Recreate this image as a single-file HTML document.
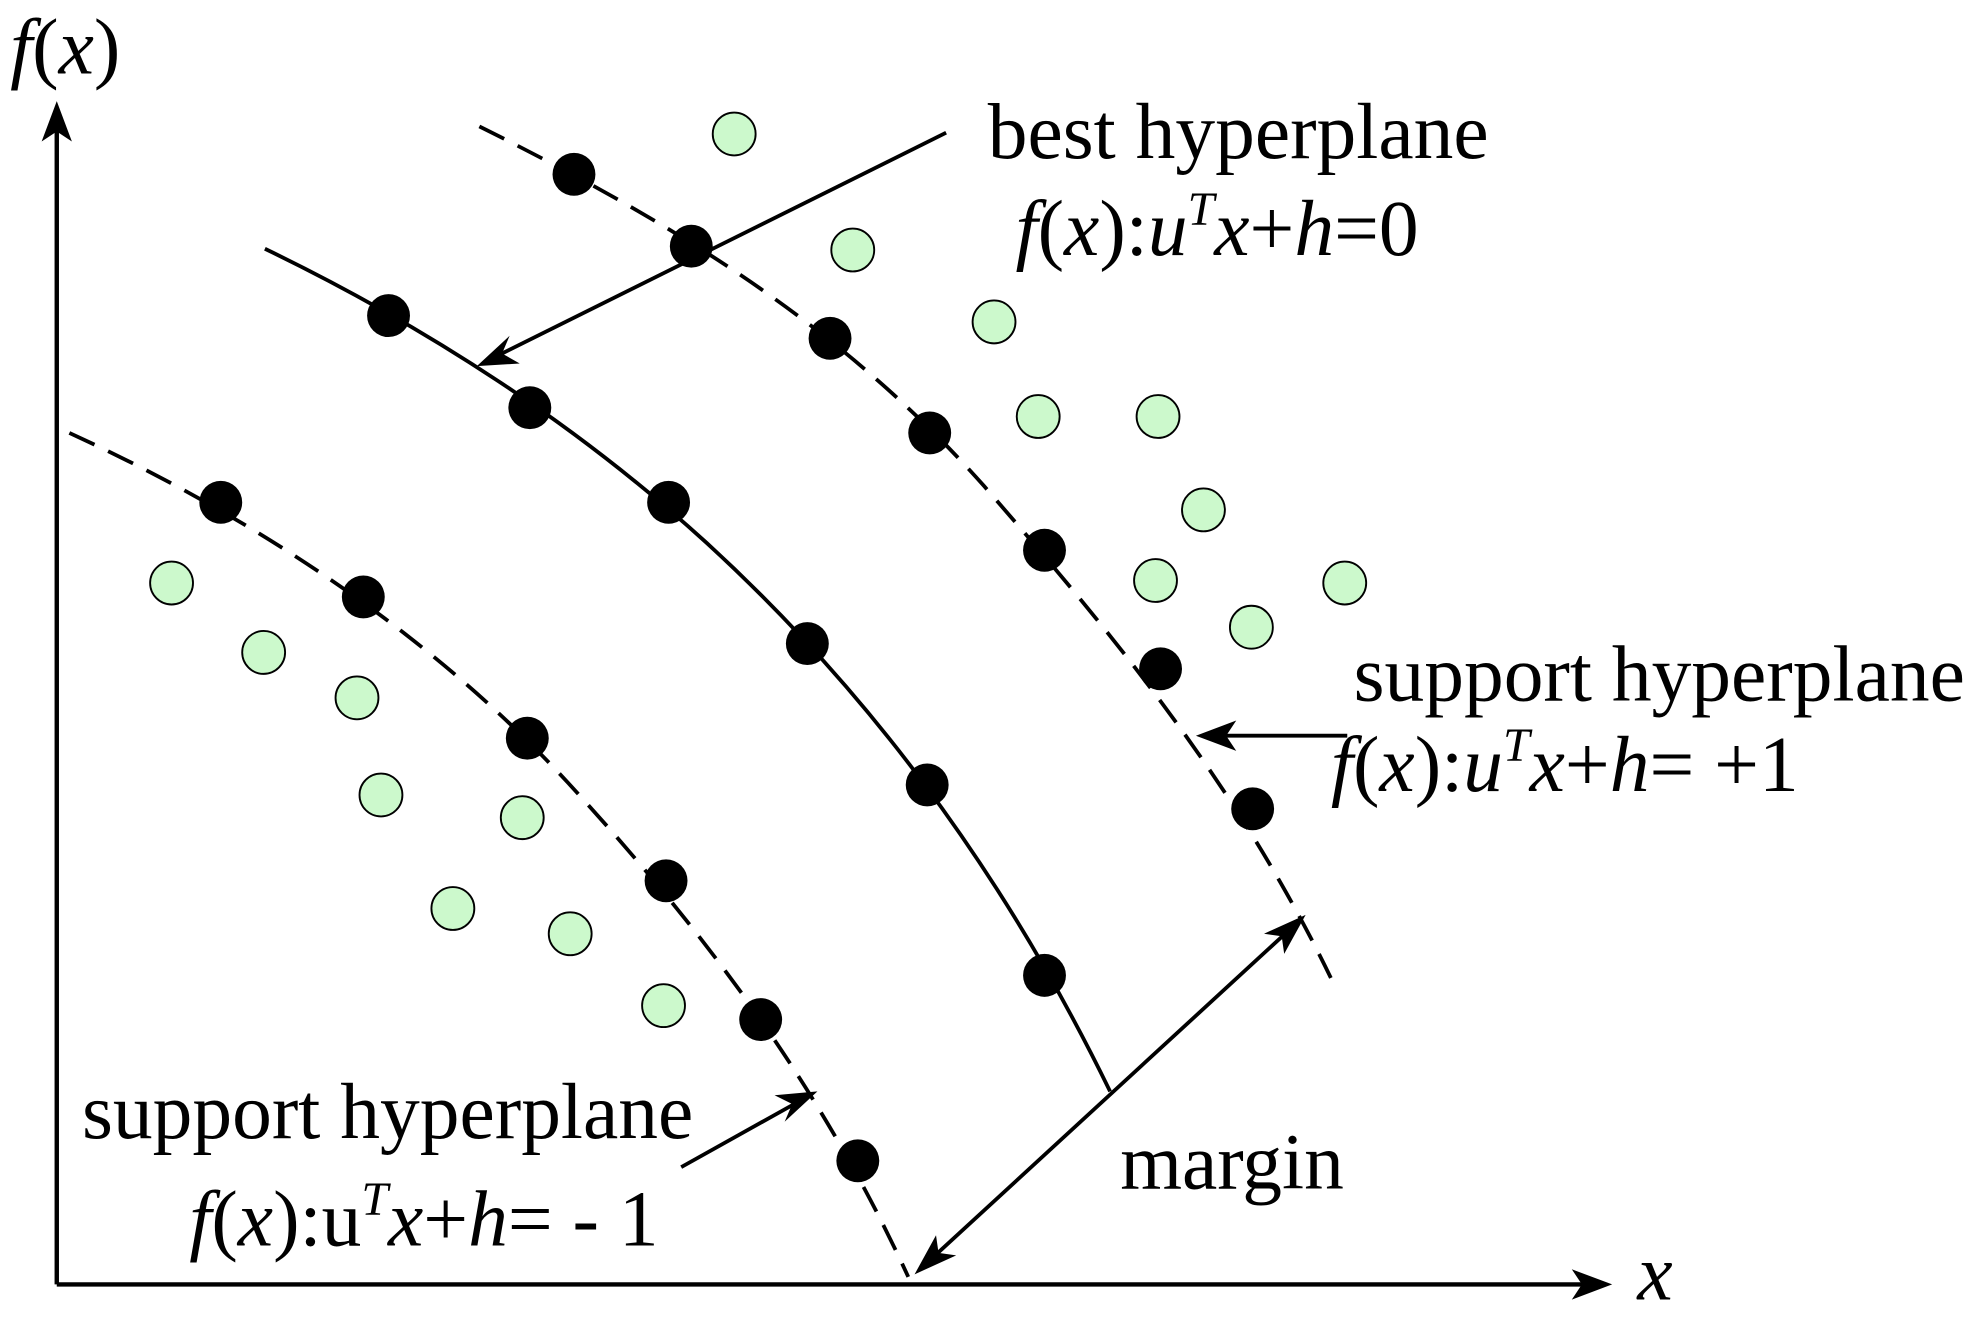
<!DOCTYPE html>
<html><head><meta charset="utf-8"><style>
html,body{margin:0;padding:0;background:#fff;}
svg{display:block;}
text{font-family:"Liberation Serif",serif;fill:#000;}
</style></head><body>
<svg width="1978" height="1320" viewBox="0 0 1568 1046" xmlns="http://www.w3.org/2000/svg">
<g stroke="#000" stroke-width="3.5" fill="none">
<line x1="45" y1="1018" x2="45" y2="100"/>
<line x1="45" y1="1018" x2="1255" y2="1018"/>
</g>
<polygon points="45,80 33,112 45,104 57,112" fill="#000"/>
<polygon points="1278,1018 1246,1006 1254,1018 1246,1030" fill="#000"/>
<g stroke="#000" stroke-width="3" fill="none">
<path d="M210,197 C330,255 450,330 560,430 C680,540 790,680 880,865"/>
<path stroke-dasharray="22,12" d="M380,100 C520,170 660,250 780,385 C880,500 980,620 1055,775"/>
<path stroke-dasharray="22,12" d="M55,343 C180,400 330,490 450,620 C560,740 650,860 720,1012"/>
</g>
<g stroke="#000" stroke-width="3">
<line x1="750" y1="105" x2="392" y2="283"/>
<line x1="1068" y1="583" x2="965" y2="583"/>
<line x1="540" y1="925" x2="635" y2="872"/>
<line x1="738" y1="998" x2="1022" y2="737"/>
</g>
<polygon points="378,290 404,266 398,280 412,288" fill="#000"/>
<polygon points="948,583 980,571 972,583 980,595" fill="#000"/>
<polygon points="648,865 622,889 628,875 614,868" fill="#000"/>
<polygon points="1035,725 1018,756 1016,742 1002,740" fill="#000"/>
<polygon points="725,1010 742,979 744,993 758,995" fill="#000"/>
<g fill="#ccf9cc" stroke="#000" stroke-width="1.5">
<circle cx="582" cy="106" r="17"/><circle cx="676" cy="198" r="17"/><circle cx="788" cy="255" r="17"/>
<circle cx="823" cy="330" r="17"/><circle cx="918" cy="330" r="17"/><circle cx="954" cy="404" r="17"/>
<circle cx="916" cy="460" r="17"/><circle cx="1066" cy="462" r="17"/><circle cx="992" cy="497" r="17"/>
<circle cx="136" cy="462" r="17"/><circle cx="209" cy="517" r="17"/><circle cx="283" cy="553" r="17"/>
<circle cx="302" cy="630" r="17"/><circle cx="414" cy="648" r="17"/><circle cx="359" cy="720" r="17"/>
<circle cx="452" cy="740" r="17"/><circle cx="526" cy="797" r="17"/>
</g>
<g fill="#000">
<circle cx="308" cy="250" r="17"/><circle cx="420" cy="323" r="17"/><circle cx="530" cy="398" r="17"/>
<circle cx="640" cy="510" r="17"/><circle cx="735" cy="622" r="17"/><circle cx="828" cy="773" r="17"/>
<circle cx="455" cy="138" r="17"/><circle cx="548" cy="195" r="17"/><circle cx="658" cy="268" r="17"/>
<circle cx="737" cy="343" r="17"/><circle cx="828" cy="436" r="17"/><circle cx="920" cy="530" r="17"/>
<circle cx="993" cy="641" r="17"/>
<circle cx="175" cy="398" r="17"/><circle cx="288" cy="473" r="17"/><circle cx="418" cy="585" r="17"/>
<circle cx="528" cy="698" r="17"/><circle cx="603" cy="808" r="17"/><circle cx="680" cy="920" r="17"/>
</g>
<g font-size="63">
<text x="8" y="58"><tspan font-style="italic">f</tspan>(<tspan font-style="italic">x</tspan>)</text>
<text x="1298" y="1030" font-style="italic">x</text>
<text x="783" y="125">best hyperplane</text>
<text x="805" y="202"><tspan font-style="italic">f</tspan>(<tspan font-style="italic">x</tspan>):<tspan font-style="italic">u</tspan><tspan font-style="italic" font-size="38" dy="-24">T</tspan><tspan font-style="italic" dy="24">x</tspan>+<tspan font-style="italic">h</tspan>=0</text>
<text x="1073" y="555">support hyperplane</text>
<text x="1055" y="627"><tspan font-style="italic">f</tspan>(<tspan font-style="italic">x</tspan>):<tspan font-style="italic">u</tspan><tspan font-style="italic" font-size="38" dy="-24">T</tspan><tspan font-style="italic" dy="24">x</tspan>+<tspan font-style="italic">h</tspan>= +1</text>
<text x="65" y="902">support hyperplane</text>
<text x="150" y="987"><tspan font-style="italic">f</tspan>(<tspan font-style="italic">x</tspan>):u<tspan font-style="italic" font-size="38" dy="-24">T</tspan><tspan font-style="italic" dy="24">x</tspan>+<tspan font-style="italic">h</tspan>= - 1</text>
<text x="888" y="942">margin</text>
</g>
</svg>
</body></html>
